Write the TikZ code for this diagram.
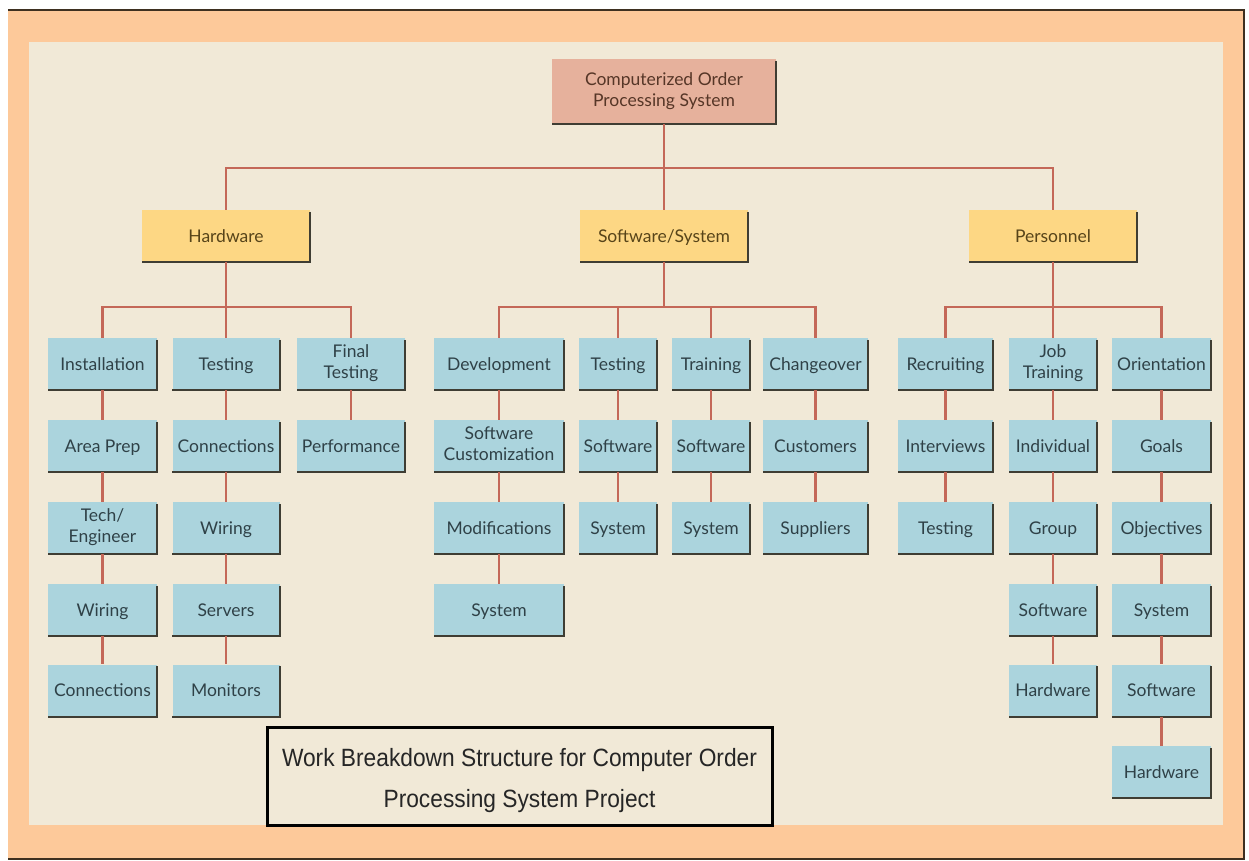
\documentclass[tikz,border=0pt]{standalone}
\usepackage{fontspec}
\setmainfont{Lato}
\newfontfamily\titlefont[FakeStretch=0.91]{Liberation Sans}
\usetikzlibrary{calc}
\newcommand\boxstrut{\rule[-4.3pt]{0pt}{21pt}}
\definecolor{frameor}{HTML}{FDC99A}
\definecolor{framedk}{HTML}{3E3020}
\definecolor{cream}{HTML}{F1E9D7}
\definecolor{boxblue}{HTML}{ABD4DD}
\definecolor{boxyel}{HTML}{FDD784}
\definecolor{boxtop}{HTML}{E6B19C}
\definecolor{conncol}{HTML}{C46858}
\definecolor{shadowcol}{HTML}{3F3D33}
\definecolor{txtblue}{HTML}{2F4147}
\definecolor{txtyel}{HTML}{574419}
\definecolor{txttop}{HTML}{563627}
\begin{document}
\begin{tikzpicture}[x=1pt,y=-1pt,
 wbox/.style={rectangle, inner sep=0pt, minimum height=52pt, align=center,
   font=\fontsize{17.5}{21}\selectfont,
   execute at begin node=\boxstrut, execute at end node=\boxstrut},
 leaf/.style={wbox, fill=boxblue, text=txtblue},
 midbox/.style={wbox, fill=boxyel, text=txtyel, minimum width=168pt},
 topbox/.style={wbox, fill=boxtop, text=txttop, minimum width=224pt, minimum height=65pt},
 conn/.style={draw=conncol, line width=2.5pt},
 shadowline/.style={draw=shadowcol, line width=2pt}]
% background
\fill[white] (0,0) rectangle (1249,861);
\fill[frameor] (8,10) rectangle (1244,859);
\draw[framedk, line width=2.5pt] (8,10) -- (1244,10) -- (1244,859) -- (8,859);
\fill[cream] (29,42) rectangle (1223,825);
\useasboundingbox (0,0) rectangle (1249,861);

% top levels
\node[topbox] (top) at (664,91.5) {Computerized Order\\Processing System};
\node[midbox] (hw) at (226,236) {Hardware};
\node[midbox] (sw) at (664,236) {Software/System};
\node[midbox] (pers) at (1053,236) {Personnel};

% hardware
\node[leaf,minimum width=109pt] (h11) at (102.5,364) {Installation};
\node[leaf,minimum width=109pt] (h12) at (102.5,446) {Area Prep};
\node[leaf,minimum width=109pt] (h13) at (102.5,528) {Tech/\\Engineer};
\node[leaf,minimum width=109pt] (h14) at (102.5,610) {Wiring};
\node[leaf,minimum width=109pt] (h15) at (102.5,690.5) {Connections};
\node[leaf,minimum width=107pt] (h21) at (226,364) {Testing};
\node[leaf,minimum width=107pt] (h22) at (226,446) {Connections};
\node[leaf,minimum width=107pt] (h23) at (226,528) {Wiring};
\node[leaf,minimum width=107pt] (h24) at (226,610) {Servers};
\node[leaf,minimum width=107pt] (h25) at (226,690.5) {Monitors};
\node[leaf,minimum width=108pt] (h31) at (351,364) {Final\\Testing};
\node[leaf,minimum width=108pt] (h32) at (351,446) {Performance};

% software
\node[leaf,minimum width=130pt] (s11) at (499,364) {Development};
\node[leaf,minimum width=130pt] (s12) at (499,446) {Software\\Customization};
\node[leaf,minimum width=130pt] (s13) at (499,528) {Modifications};
\node[leaf,minimum width=130pt] (s14) at (499,610) {System};
\node[leaf,minimum width=78pt] (s21) at (618,364) {Testing};
\node[leaf,minimum width=78pt] (s22) at (618,446) {Software};
\node[leaf,minimum width=78pt] (s23) at (618,528) {System};
\node[leaf,minimum width=78pt] (s31) at (711,364) {Training};
\node[leaf,minimum width=78pt] (s32) at (711,446) {Software};
\node[leaf,minimum width=78pt] (s33) at (711,528) {System};
\node[leaf,minimum width=105pt] (s41) at (815.5,364) {Changeover};
\node[leaf,minimum width=105pt] (s42) at (815.5,446) {Customers};
\node[leaf,minimum width=105pt] (s43) at (815.5,528) {Suppliers};

% personnel
\node[leaf,minimum width=95pt] (p11) at (945.5,364) {Recruiting};
\node[leaf,minimum width=95pt] (p12) at (945.5,446) {Interviews};
\node[leaf,minimum width=95pt] (p13) at (945.5,528) {Testing};
\node[leaf,minimum width=88pt] (p21) at (1053,364) {Job\\Training};
\node[leaf,minimum width=88pt] (p22) at (1053,446) {Individual};
\node[leaf,minimum width=88pt] (p23) at (1053,528) {Group};
\node[leaf,minimum width=88pt] (p24) at (1053,610) {Software};
\node[leaf,minimum width=88pt] (p25) at (1053,690.5) {Hardware};
\node[leaf,minimum width=99pt] (p31) at (1161.5,364) {Orientation};
\node[leaf,minimum width=99pt] (p32) at (1161.5,446) {Goals};
\node[leaf,minimum width=99pt] (p33) at (1161.5,528) {Objectives};
\node[leaf,minimum width=99pt] (p34) at (1161.5,610) {System};
\node[leaf,minimum width=99pt] (p35) at (1161.5,690.5) {Software};
\node[leaf,minimum width=99pt] (p36) at (1161.5,772) {Hardware};

% shadows
\foreach \n in {top,hw,sw,pers,h11,h12,h13,h14,h15,h21,h22,h23,h24,h25,h31,h32,
  s11,s12,s13,s14,s21,s22,s23,s31,s32,s33,s41,s42,s43,
  p11,p12,p13,p21,p22,p23,p24,p25,p31,p32,p33,p34,p35,p36}
  \draw[shadowline] ([yshift=-2pt]\n.north east) -- (\n.south east) -- (\n.south west);

% bar coordinates
\coordinate (b0) at (664,168);
\coordinate (bh) at (226,307);
\coordinate (bs) at (664,307);
\coordinate (bp) at (1053,307);

% connectors
\draw[conn] (top.south) -- (sw.north);
\draw[conn] (hw.north) |- (b0) -| (pers.north);
\draw[conn] (hw.south) -- (h21.north);
\draw[conn] (h11.north) |- (bh) -| (h31.north);
\draw[conn] (sw.south) -- (bs);
\draw[conn] (s11.north) |- (bs) -| (s41.north);
\draw[conn] (s21.north) -- (s21.north |- bs);
\draw[conn] (s31.north) -- (s31.north |- bs);
\draw[conn] (pers.south) -- (p21.north);
\draw[conn] (p11.north) |- (bp) -| (p31.north);
\foreach \a/\b in {h11/h12,h12/h13,h13/h14,h14/h15,h21/h22,h22/h23,h23/h24,h24/h25,h31/h32,
  s11/s12,s12/s13,s13/s14,s21/s22,s22/s23,s31/s32,s32/s33,s41/s42,s42/s43,
  p11/p12,p12/p13,p21/p22,p22/p23,p23/p24,p24/p25,p31/p32,p32/p33,p33/p34,p34/p35,p35/p36}
  \draw[conn] (\a.south) -- (\b.north);

% title
\node[draw=black, line width=3pt, fill=cream, minimum width=505pt, minimum height=98pt,
  inner sep=0pt] (title) at (519.5,776) {};
\node[inner sep=0pt, align=center, text=black!85,
  font=\titlefont\fontsize{25}{41}\selectfont] (titletext) at (519.5,780.5)
  {Work Breakdown Structure for Computer Order\\Processing System Project};
\end{tikzpicture}
\end{document}
